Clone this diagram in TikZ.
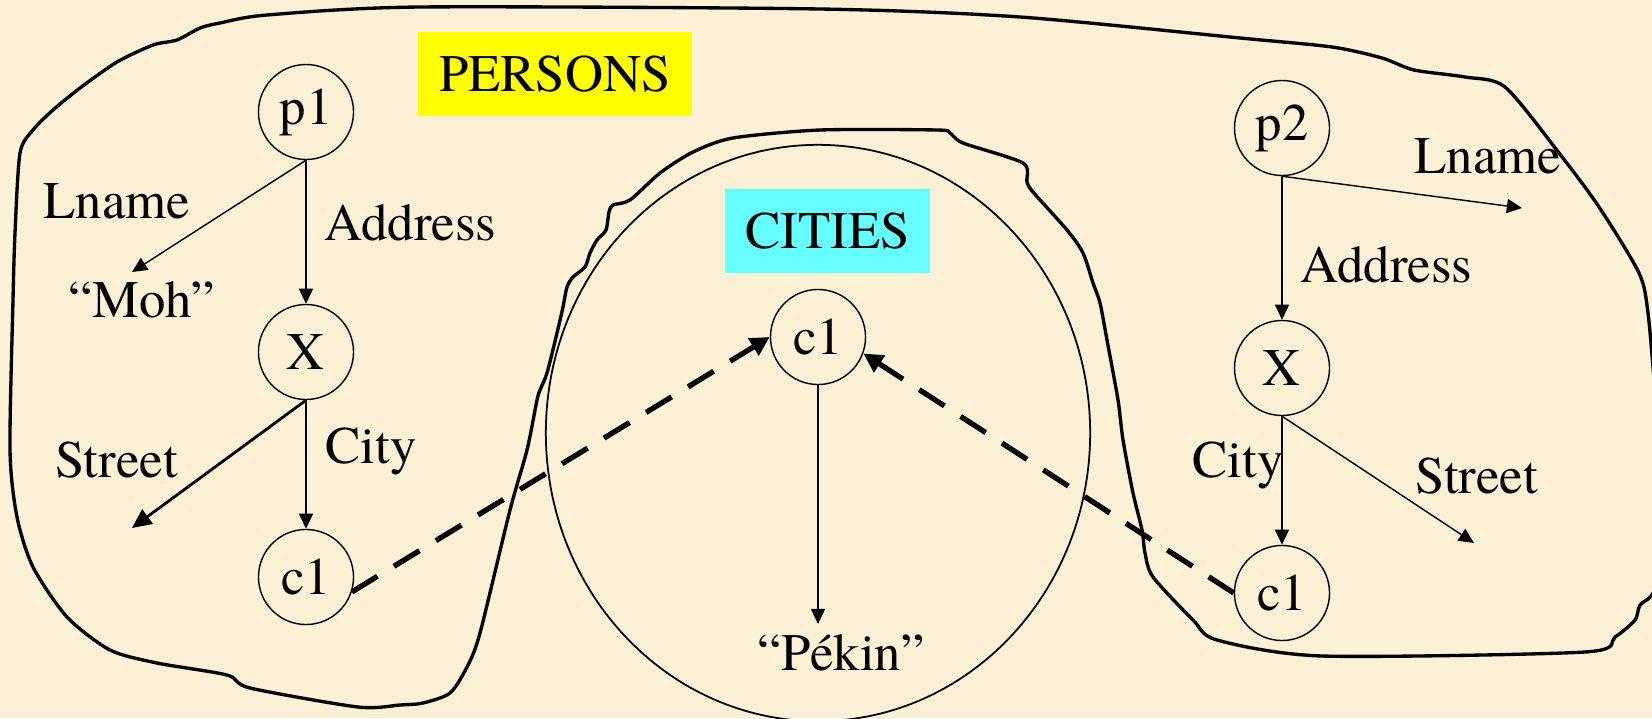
\documentclass[tikz,border=0pt]{standalone}
\usepackage{fontspec}
\setmainfont{TeX Gyre Termes}
\usetikzlibrary{arrows.meta,positioning}
\definecolor{paper}{HTML}{FAF0D6}
\definecolor{ink}{HTML}{000000}
\definecolor{persyellow}{HTML}{FFFF00}
\definecolor{citycyan}{HTML}{66FFFF}
\tikzset{
  objnode/.style={draw=ink,circle,line width=0.4pt,
                  minimum size=0.95cm,inner sep=0pt,
                  font=\rmfamily\fontsize{15}{18}\selectfont},
  attr/.style={inner sep=0pt,anchor=base west,
               font=\rmfamily\fontsize{15}{18}\selectfont},
  tagbox/.style={inner sep=0pt,align=center,
                 font=\rmfamily\fontsize{15}{18}\selectfont},
  edgearr/.style={-{Triangle[length=4.3pt,width=4pt]},line width=0.4pt,color=ink},
  refarr/.style={-{Triangle[length=5.5pt,width=5.5pt]},line width=1.5pt,
                 dash pattern=on 8.5pt off 5.5pt,color=ink},
  setline/.style={line width=0.95pt,color=ink}
}

\begin{document}
\begin{tikzpicture}[x=0.01cm,y=-0.01cm]
  \fill[paper] (0,0) rectangle (1652,718);
  \useasboundingbox (0,0) rectangle (1652,718);
  \clip (0,0) rectangle (1652,718);

  % the PERSONS set, drawn by hand round both persons
  \draw[setline] plot[smooth cycle,tension=0.45] coordinates {
    (20,153) (33,130) (53,110) (80,88) (117,62) (153,45) (177,40) (200,28)
    (220,23) (267,15) (420,7) (820,9) (1020,17) (1240,38) (1332,47) (1382,58)
    (1414,70) (1465,77) (1505,87) (1559,153) (1599,207) (1639,273) (1648,313)
    (1656,400) (1666,480) (1656,585) (1640,605) (1635,620) (1615,637) (1585,652)
    (1322,656) (1217,640) (1193,620) (1153,577) (1145,553) (1142,530) (1133,493)
    (1123,440) (1118,400) (1107,340) (1100,303) (1093,283) (1083,253) (1067,230)
    (1033,192) (1027,182) (1023,163) (963,143) (950,133) (937,130) (820,130)
    (733,138) (693,152) (660,173) (630,200) (613,205) (609,212) (606,230)
    (597,240) (590,253) (585,267) (573,277) (567,287) (563,307) (557,333)
    (547,373) (540,390) (537,400) (527,450) (510,510) (480,633) (467,667)
    (450,693) (423,703) (400,705) (358,707) (250,688) (227,675) (157,663)
    (110,650) (67,617) (33,567) (17,517) (10,450) (13,300) (15,233)};

  % the CITIES set
  \draw[line width=0.5pt,ink] (818,433) ellipse [x radius=2.72cm,y radius=2.88cm];

  \node[tagbox,fill=persyellow,minimum width=2.74cm,minimum height=0.84cm] (persons) at (555,74) {PERSONS};
  \node[tagbox,fill=citycyan,minimum width=2.05cm,minimum height=0.84cm] (cities) at (827.5,231) {CITIES};

  % first person
  \node[objnode] (p1) at (306,112) {p1};
  \node[objnode] (xa) at (306,352) {X};
  \node[objnode] (ca) at (306,577) {c1};
  \node[attr] (lnamea) at (43,218) {Lname};
  \node[attr] (addra) at (324,240) {Address};
  \node[attr] (moh) at (68,317) {“Moh”};
  \node[attr] (streeta) at (55,477) {Street};
  \node[attr] (citya) at (325,463) {City};
  \coordinate (mohend) at (132,272);
  \coordinate (streetaend) at (132,528);

  % the city
  \node[objnode] (cityc) at (818,337) {c1};
  \node[attr] (pekin) at (757,670) {“Pékin”};
  \coordinate (pekinend) at (818,624);

  % second person
  \node[objnode] (p2) at (1282,128) {p2};
  \node[objnode] (xb) at (1282,368) {X};
  \node[objnode] (cb) at (1282,593) {c1};
  \node[attr] (lnameb) at (1414,173) {Lname};
  \node[attr] (addrb) at (1300,282) {Address};
  \node[attr] (streetb) at (1415,493) {Street};
  \node[attr] (cityb) at (1192,477) {City};
  \coordinate (lnamebend) at (1522,208);
  \coordinate (streetbend) at (1474,543);

  \draw[edgearr] (p1.south) -- (mohend);
  \draw[edgearr] (p1) -- (xa);
  \draw[edgearr,line width=0.8pt,-{Triangle[length=5.5pt,width=5pt]}] (xa.south) -- (streetaend);
  \draw[edgearr] (xa) -- (ca);
  \draw[edgearr] (cityc) -- (pekinend);
  \draw[edgearr] (p2.south) -- (lnamebend);
  \draw[edgearr] (p2) -- (xb);
  \draw[edgearr] (xb.south) -- (streetbend);
  \draw[edgearr] (xb) -- (cb);

  % references into the CITIES set
  \draw[refarr] (ca.-18) -- (cityc.west);
  \draw[refarr] (cb.west) -- (cityc.-20);
\end{tikzpicture}
\end{document}
